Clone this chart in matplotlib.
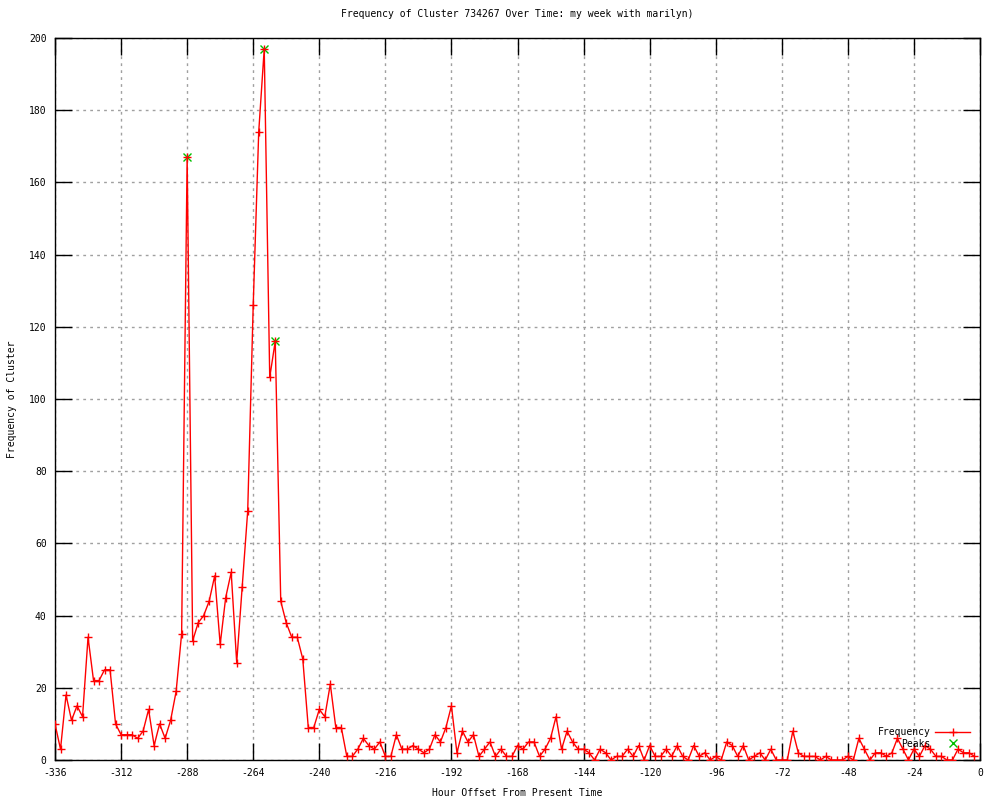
import numpy as np
import matplotlib
matplotlib.use("Agg")
import matplotlib.pyplot as plt
from matplotlib.lines import Line2D

# Hour offsets (every 2 hours) and cluster frequency
hours = np.arange(-336, 0, 2)
frequency = [
    10, 3, 18, 11, 15, 12, 34, 22, 22, 25, 25, 10,
    7, 7, 7, 6, 8, 14, 4, 10, 6, 11, 19, 35,
    167, 33, 38, 40, 44, 51, 32, 45, 52, 27, 48, 69,
    126, 174, 197, 106, 116, 44, 38, 34, 34, 28, 9, 9,
    14, 12, 21, 9, 9, 1, 1, 3, 6, 4, 3, 5,
    1, 1, 7, 3, 3, 4, 3, 2, 3, 7, 5, 9,
    15, 2, 8, 5, 7, 1, 3, 5, 1, 3, 1, 1,
    4, 3, 5, 5, 1, 3, 6, 12, 3, 8, 5, 3,
    3, 2, 0, 3, 2, 0, 1, 1, 3, 1, 4, 0,
    4, 1, 1, 3, 1, 4, 1, 0, 4, 1, 2, 0,
    1, 0, 5, 4, 1, 4, 0, 1, 2, 0, 3, 0,
    0, 0, 8, 2, 1, 1, 1, 0, 1, 0, 0, 0,
    1, 0, 6, 3, 0, 2, 2, 1, 2, 6, 3, 0,
    3, 1, 4, 3, 1, 1, 0, 0, 3, 2, 2, 1,
]

# Detected peaks
peak_hours = [-288, -260, -256]
peak_values = [167, 197, 116]

xticks = np.arange(-336, 1, 24)
yticks = np.arange(0, 201, 20)

plt.rcParams['font.family'] = ['DejaVu Sans Mono']
plt.rcParams['font.size'] = 7
plt.rcParams['axes.unicode_minus'] = False

fig = plt.figure(figsize=(10, 8), dpi=100)
ax = fig.add_axes([0.055, 0.05, 0.925, 0.9025])

# Peaks drawn first, frequency line on top
ax.plot(peak_hours, peak_values, linestyle='none', marker='x', color='#00c000',
        markersize=6, markeredgewidth=1, zorder=3)
ax.plot(hours, frequency, color='red', linewidth=1, marker='+',
        markersize=6.2, markeredgewidth=1, zorder=4)

ax.set_xlim(-336, 0)
ax.set_ylim(0, 200)
ax.set_xticks(xticks)
ax.set_yticks(yticks)

ax.grid(True, color='#a0a0a0', linestyle=(0, (2, 3)), linewidth=1)
ax.tick_params(direction='in', length=12, width=1, top=True, right=True,
               labeltop=False, labelright=False, pad=6, labelsize=7)
for s in ax.spines.values():
    s.set_linewidth(1)

ax.set_title("Frequency of Cluster 734267 Over Time: my week with marilyn)",
             fontsize=7, pad=15)
ax.set_xlabel("Hour Offset From Present Time", fontsize=7, labelpad=7)
ax.set_ylabel("Frequency of Cluster", fontsize=7, labelpad=9)

handles = [
    Line2D([], [], color='red', linewidth=1, marker='+', markersize=6.2),
    Line2D([], [], color='#00c000', linestyle='none', marker='x', markersize=6),
]
ax.legend(handles, ["Frequency", "Peaks"], loc='lower right',
          bbox_to_anchor=(0.997, 0.006), frameon=False, markerfirst=False,
          numpoints=1, handlelength=3.6, handletextpad=0.5,
          labelspacing=0.2, borderpad=0.2, fontsize=7)

fig.savefig("out.png", dpi=100)
